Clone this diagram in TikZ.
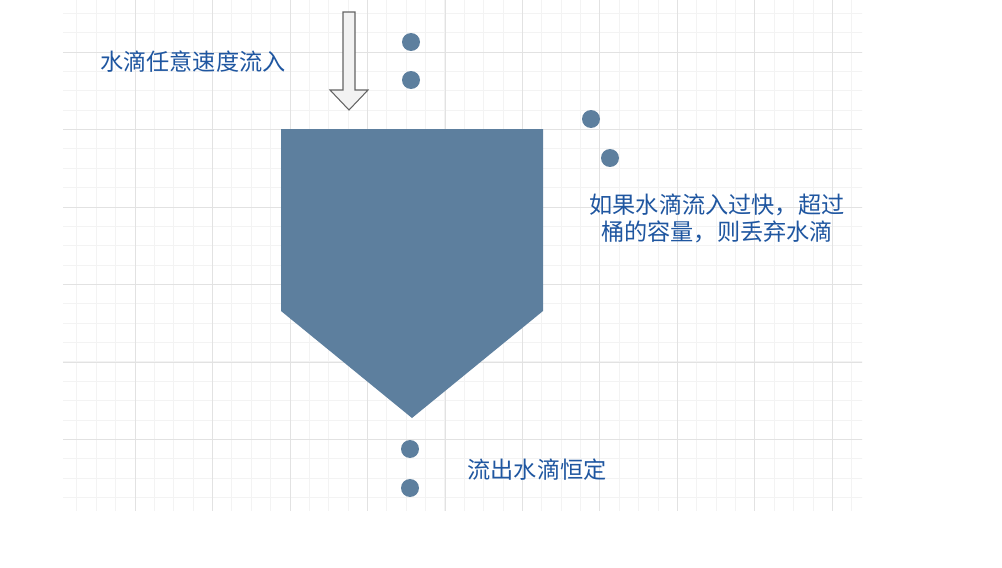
\documentclass[tikz,border=0pt]{standalone}
\usepackage{fontspec}
\newfontfamily\cjk{Noto Sans CJK SC}
\usetikzlibrary{positioning}
\definecolor{bucket}{RGB}{93,127,158}
\definecolor{txtblue}{RGB}{31,86,160}
\definecolor{gridmaj}{RGB}{226,226,226}
\definecolor{gridmin}{RGB}{243,243,243}
\definecolor{arrowfill}{RGB}{242,242,242}
\definecolor{arrowline}{RGB}{100,100,100}
\begin{document}
\begin{tikzpicture}[x={(0.02cm,0cm)},y={(0cm,-0.02cm)},
  drop/.style={circle,fill=bucket,inner sep=0pt,minimum size=0.36cm},
  lbl/.style={text=txtblue,font=\cjk\fontsize{13.2}{15.4}\selectfont,align=center,inner sep=0pt}]
\useasboundingbox (0,0) rectangle (1002,568);
\begin{scope}
\clip (63,0) rectangle (862,510);
\begin{scope}[shift={(135,52)}]
\draw [gridmin, line width=0.5pt, xstep=0.3875cm, ystep=0.3875cm] (-100,-80) grid (760,480);
\draw [gridmaj, line width=0.5pt, xstep=1.55cm, ystep=1.55cm] (-100,-80) grid (760,480);
\end{scope}
\end{scope}
% inflow arrow
\draw [arrowline, fill=arrowfill, line width=0.6pt] (343,12) -- (355,12) -- (355,90) -- (368,90) -- (349,110) -- (330,90) -- (343,90) -- cycle;
% bucket
\fill [bucket] (281,129) -- (543,129) -- (543,311) -- (412,418) -- (281,311) -- cycle;
% drops
\node [drop] (in1) at (411,42) {};
\node [drop] (in2) at (411,80) {};
\node [drop] (over1) at (591,119) {};
\node [drop] (over2) at (610,158) {};
\node [drop] (out1) at (410,449) {};
\node [drop] (out2) at (410,488) {};
% labels
\node [lbl] (inflow) at (193,62) {水滴任意速度流入};
\node [lbl] (overflow) at (717,218) {如果水滴流入过快，超过\\桶的容量，则丢弃水滴};
\node [lbl] (outflow) at (537,470) {流出水滴恒定};
\end{tikzpicture}
\end{document}
